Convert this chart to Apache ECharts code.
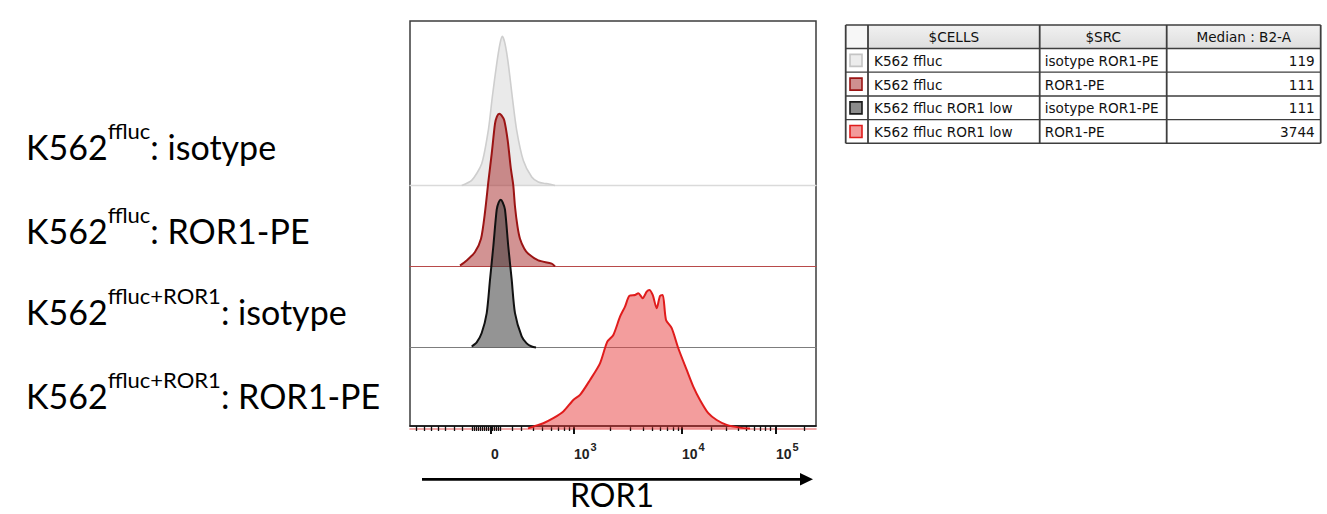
<!DOCTYPE html>
<html>
<head>
<meta charset="utf-8">
<script src="https://cdn.jsdelivr.net/npm/echarts@6/dist/echarts.min.js"></script>
<style>
html,body{margin:0;padding:0;background:#fff;}
#c{width:1327px;height:514px;}
</style>
</head>
<body>
<div id="c"></div>
<script>
// ---------- DATA (x in display channels 0-1024 of the biexponential ROR1 axis, y in % of mode) ----------
const tickMajorValues = [204.3, 413.6, 686.0, 923.1];
const tickMajorLabels = ['0', '10^3', '10^4', '10^5'];
const tickMinorValues = [16.9, 36.1, 54.7, 71.4, 90.0, 111.0, 131.9,
  156.4, 161.4, 166.4, 171.5, 176.5, 181.6, 186.6, 191.7, 196.7, 201.8, 206.8, 211.8, 216.9, 221.9, 227.0,
  258.0, 281.7, 311.0, 333.7, 357.4, 374.0, 389.2, 402.3,
  504.4, 556.7, 588.4, 611.1, 632.3, 649.0, 664.1, 676.7,
  759.2, 798.8, 828.0, 849.2, 867.6, 882.8, 896.1, 908.0, 993.7];

// K562 ffluc, isotype ROR1-PE
const k562IsoX = [130.4, 155.6, 180.8, 197.5, 207.6, 218.7, 227.0, 232.8, 239.6, 247.9, 258.0, 269.1, 285.8, 307.0, 323.6, 340.0, 348.0, 365.7];
const k562IsoY = [0, 3.1, 13.4, 34.0, 54.6, 75.1, 87.5, 92.0, 87.5, 75.1, 54.6, 34.0, 15.4, 5.2, 2.1, 1.2, 1.0, 0];
// K562 ffluc, ROR1-PE
const k562RorX = [126.1, 143.0, 163.9, 179.1, 189.2, 198.0, 206.1, 214.4, 219.4, 225.2, 230.8, 237.8, 246.4, 254.3, 260.5, 264.8, 271.1, 277.4, 288.0, 298.4, 323.6, 357.4, 365.7];
const k562RorY = [0.6, 3.7, 8.9, 17.1, 33.6, 53.1, 69.6, 88.1, 92.6, 94.3, 93.2, 90.1, 77.8, 60.5, 50.0, 37.0, 24.7, 17.1, 11.1, 7.8, 3.7, 1.7, 0];
// K562 ffluc ROR1 low, isotype ROR1-PE
const k562LowIsoX = [155.6, 168.2, 180.8, 193.5, 201.8, 210.1, 218.7, 223.7, 228.8, 233.8, 239.6, 247.9, 256.5, 264.8, 281.7, 294.3, 307.0, 317.8];
const k562LowIsoY = [0.6, 3.1, 8.9, 21.2, 41.8, 62.3, 85.0, 89.5, 91.2, 89.5, 85.0, 62.3, 41.8, 21.2, 6.8, 2.5, 0.6, 0];
// K562 ffluc ROR1 low, ROR1-PE
const k562LowRorX = [297.6, 315.3, 336.2, 361.4, 386.7, 411.9, 428.8, 454.0, 479.2, 497.6, 512.8, 529.7, 542.3, 553.1, 567.5, 575.8, 586.9, 597.0, 603.6, 612.1, 622.2, 630.6, 637.4, 645.7, 660.1, 676.7, 697.9, 714.5, 731.4, 752.4, 773.5, 798.8, 832.3, 857.5];
const k562LowRorY = [0, 1.5, 3.2, 6.3, 10.4, 17.6, 20.7, 29.9, 40.2, 53.6, 57.7, 69.0, 75.2, 81.8, 82.4, 83.5, 80.4, 84.4, 85.5, 82.4, 74.2, 81.8, 82.4, 67.0, 61.9, 49.5, 36.1, 25.8, 17.6, 9.4, 5.2, 2.2, 0.5, 0];

const labelMain = ['K562', 'K562', 'K562', 'K562'];
const labelSup = ['ffluc', 'ffluc', 'ffluc+ROR1', 'ffluc+ROR1'];
const labelSuffix = [': isotype', ': ROR1-PE', ': isotype', ': ROR1-PE'];
const axisTitle = 'ROR1';

const tableHeader = ['', '$CELLS', '$SRC', 'Median : B2-A'];
const tableCells = ['K562 ffluc', 'K562 ffluc', 'K562 ffluc ROR1 low', 'K562 ffluc ROR1 low'];
const tableSrc = ['isotype ROR1-PE', 'ROR1-PE', 'isotype ROR1-PE', 'ROR1-PE'];
const tableMedian = [119, 111, 111, 3744];

// ---------- LAYOUT / STYLE ----------
const X_MIN = 0, X_MAX = 1024;
const FRAME = {left: 410, top: 21, width: 406, height: 405};
const PX = 1.62;          // px per y unit
const LANE_STEP = 50;     // y units between lane baselines
const ZERO_BELOW = 1.5;   // lowest baseline sits this many units under the frame

const lanes = [
  {x: k562IsoX, y: k562IsoY, k: 3, line: '#cecece', lw: 1.6, fill: 'rgba(200,200,200,0.38)', base: '#dadada', bw: 1.3},
  {x: k562RorX, y: k562RorY, k: 2, line: '#9b1414', lw: 2, fill: 'rgba(165,40,40,0.5)', base: '#b84a4a', bw: 1.2},
  {x: k562LowIsoX, y: k562LowIsoY, k: 1, line: '#111111', lw: 2, fill: 'rgba(60,60,60,0.55)', base: '#7d7d7d', bw: 1.2},
  {x: k562LowRorX, y: k562LowRorY, k: 0, line: '#e01c1c', lw: 2, fill: 'rgba(232,60,60,0.5)', base: '#f08c8c', bw: 1.6}
];
const swatches = [
  {fill: '#ececec', stroke: '#c4c4c4'},
  {fill: '#cf8f8f', stroke: '#9b1414'},
  {fill: '#8c8c8c', stroke: '#1a1a1a'},
  {fill: '#f29a9a', stroke: '#e01c1c'}
];

const grids = [], xAxes = [], yAxes = [], series = [];

// frame grid with major ticks + labels
grids.push({left: FRAME.left, top: FRAME.top, width: FRAME.width, height: FRAME.height,
  show: true, borderColor: '#3c3c3c', borderWidth: 1.5, backgroundColor: 'transparent', outerBoundsMode: 'none'});
xAxes.push({type: 'value', gridIndex: 0, min: X_MIN, max: X_MAX, position: 'bottom',
  axisLine: {show: true, onZero: false, lineStyle: {color: '#111', width: 1.5}},
  axisTick: {show: true, customValues: tickMajorValues, length: 8, lineStyle: {color: '#111', width: 2}},
  axisLabel: {show: true, customValues: tickMajorValues, align: 'left', margin: 11,
    formatter: function (v) {
      let i = tickMajorValues.findIndex(t => Math.abs(t - v) < 0.01);
      const lab = tickMajorLabels[i] || '';
      const p = lab.split('^');
      return p.length > 1 ? '{b|' + p[0] + '}{s|' + p[1] + '}' : '{b|' + lab + '}';
    },
    rich: {
      b: {fontSize: 14, fontWeight: 'bold', fontFamily: 'Liberation Sans, Arial, sans-serif', color: '#222', lineHeight: 24, verticalAlign: 'bottom'},
      s: {fontSize: 11, fontWeight: 'bold', fontFamily: 'Liberation Sans, Arial, sans-serif', color: '#222', lineHeight: 14, verticalAlign: 'top', padding: [4, 0, 0, 1]}
    }},
  splitLine: {show: false}});
yAxes.push({type: 'value', gridIndex: 0, min: ZERO_BELOW, max: ZERO_BELOW + FRAME.height / PX, show: false});

// minor tick grid
grids.push({left: FRAME.left, top: FRAME.top, width: FRAME.width, height: FRAME.height, show: false, outerBoundsMode: 'none'});
xAxes.push({type: 'value', gridIndex: 1, min: X_MIN, max: X_MAX, position: 'bottom',
  axisLine: {show: false, onZero: false},
  axisTick: {show: true, customValues: tickMinorValues, length: 5, lineStyle: {color: '#111', width: 1.3}},
  axisLabel: {show: false, customValues: tickMinorValues},
  splitLine: {show: false}});
yAxes.push({type: 'value', gridIndex: 1, min: 0, max: 1, show: false});

// one overlapping grid per histogram lane, whose bottom is the lane baseline
lanes.forEach(function (L, i) {
  const gi = grids.length;
  const h = FRAME.height + ZERO_BELOW * PX - L.k * LANE_STEP * PX;
  grids.push({left: FRAME.left, top: FRAME.top, width: FRAME.width, height: h, show: false, outerBoundsMode: 'none'});
  xAxes.push({type: 'value', gridIndex: gi, min: X_MIN, max: X_MAX,
    axisLine: {show: true, onZero: false, lineStyle: {color: L.base, width: L.bw}},
    axisTick: {show: false}, axisLabel: {show: false}, splitLine: {show: false}});
  yAxes.push({type: 'value', gridIndex: gi, min: 0, max: h / PX, show: false});
  series.push({type: 'line', xAxisIndex: gi, yAxisIndex: gi,
    data: L.x.map((x, j) => [x, L.y[j]]),
    smooth: 0.25, symbol: 'none', showSymbol: false, silent: true, clip: false,
    lineStyle: {color: L.line, width: L.lw},
    areaStyle: {color: L.fill, opacity: 1},
    z: 2 + i});
});

// ---------- GRAPHIC: labels, arrow, title, table ----------
const graphics = [];
const labelTops = [119, 203, 284.7, 368];
const labelFont = 'Lato, "Open Sans", sans-serif';
const labelRich = {
  m: {fontSize: 34, fontFamily: labelFont, fill: '#000', lineHeight: 44, verticalAlign: 'bottom'},
  s: {fontSize: 22, fontFamily: labelFont, fill: '#000', lineHeight: 23, verticalAlign: 'top'}
};
labelMain.forEach(function (m, i) {
  graphics.push({type: 'text', x: 26, y: labelTops[i], silent: true,
    style: {text: '{m|' + m + '}{s|' + labelSup[i] + '}{m|' + labelSuffix[i] + '}', rich: labelRich,
      align: 'left', verticalAlign: 'top'}});
});
// arrow
graphics.push({type: 'line', silent: true, shape: {x1: 422, y1: 479.3, x2: 802, y2: 479.3}, style: {stroke: '#000', lineWidth: 2.8}});
graphics.push({type: 'polygon', silent: true, shape: {points: [[800, 473], [813, 479.3], [800, 485.6]]}, style: {fill: '#000'}});
graphics.push({type: 'text', x: 612, y: 494.5, silent: true,
  style: {text: axisTitle, fontSize: 32, lineHeight: 28, fontFamily: labelFont, fill: '#000', align: 'center', verticalAlign: 'middle'}});

// table
const colX = [845.7, 868, 1039.7, 1166.7, 1320.7];
const rowY = [25, 48.5, 72.2, 96, 119.7, 143.3];
const tFont = {fontSize: 13.6, fontFamily: '"DejaVu Sans", Verdana, sans-serif', fill: '#111'};
// header backgrounds
for (let c = 0; c < 4; c++) {
  graphics.push({type: 'rect', silent: true, shape: {x: colX[c], y: rowY[0], width: colX[c + 1] - colX[c], height: rowY[1] - rowY[0]},
    style: {fill: c === 0 ? '#f7f7f7' : {type: 'linear', x: 0, y: 0, x2: 0, y2: 1, colorStops: [{offset: 0, color: '#f1f1f1'}, {offset: 1, color: '#dedede'}]}}});
}
// body background
graphics.push({type: 'rect', silent: true, shape: {x: colX[0], y: rowY[1], width: colX[4] - colX[0], height: rowY[5] - rowY[1]}, style: {fill: '#fff'}});
// grid lines
rowY.forEach(function (y, r) {
  graphics.push({type: 'line', silent: true, shape: {x1: colX[0], y1: y, x2: colX[4], y2: y}, style: {stroke: '#3e3e3e', lineWidth: r === 0 || r === rowY.length - 1 ? 1.6 : 1.3}});
});
colX.forEach(function (x) {
  graphics.push({type: 'line', silent: true, shape: {x1: x, y1: rowY[0], x2: x, y2: rowY[5]}, style: {stroke: '#3e3e3e', lineWidth: 1.8}});
});
// header text
const colCenter = c => (colX[c] + colX[c + 1]) / 2;
tableHeader.forEach(function (t, c) {
  if (!t) return;
  graphics.push({type: 'text', silent: true, x: colCenter(c), y: (rowY[0] + rowY[1]) / 2 + 0.5,
    style: Object.assign({text: t, align: 'center', verticalAlign: 'middle'}, tFont)});
});
// body
tableCells.forEach(function (cell, r) {
  const yc = (rowY[r + 1] + rowY[r + 2]) / 2 + 0.5;
  graphics.push({type: 'rect', silent: true, shape: {x: 850, y: yc - 6.5, width: 12, height: 12},
    style: {fill: swatches[r].fill, stroke: swatches[r].stroke, lineWidth: 1.6}});
  graphics.push({type: 'text', silent: true, x: colX[1] + 6, y: yc, style: Object.assign({text: cell, align: 'left', verticalAlign: 'middle'}, tFont)});
  graphics.push({type: 'text', silent: true, x: colX[2] + 5, y: yc, style: Object.assign({text: tableSrc[r], align: 'left', verticalAlign: 'middle'}, tFont)});
  graphics.push({type: 'text', silent: true, x: colX[4] - 6, y: yc, style: Object.assign({text: String(tableMedian[r]), align: 'right', verticalAlign: 'middle'}, tFont)});
});

const chart = echarts.init(document.getElementById('c'), null, {renderer: 'svg', width: 1327, height: 514});
chart.setOption({
  animation: false,
  backgroundColor: '#ffffff',
  grid: grids,
  xAxis: xAxes,
  yAxis: yAxes,
  series: series,
  graphic: {elements: graphics}
});
</script>
</body>
</html>
